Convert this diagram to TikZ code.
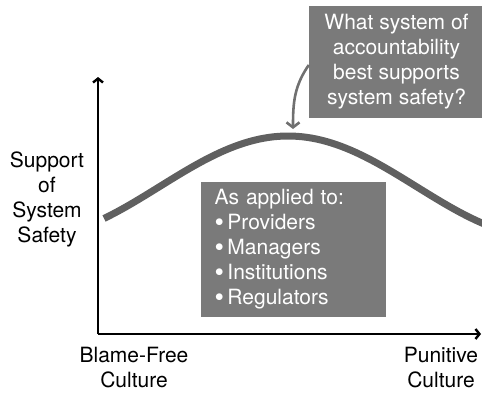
\documentclass[tikz,border=0pt]{standalone}
\usepackage{fontspec}
\setmainfont{TeX Gyre Heros}
\usepackage{tikz}
\usetikzlibrary{arrows.meta}

\definecolor{boxgray}{RGB}{122,122,122}
\definecolor{curvegray}{RGB}{96,96,96}
\definecolor{arrowgray}{RGB}{112,112,112}

\newcommand{\bul}{\raisebox{-2pt}{\fontsize{27}{25}\selectfont\textbullet}\,}

\begin{document}
\begin{tikzpicture}[x=1pt,y=1pt,
  every node/.style={font=\fontsize{21}{25}\selectfont},
  axis/.style={line width=2.4pt,-{Straight Barb[length=4pt,width=10pt]}},
  graybox/.style={rectangle,fill=boxgray,text=white,inner sep=0pt}]
\useasboundingbox (0,0) rectangle (482,392);

% axes
\coordinate (o) at (98,58);
\coordinate (ytop) at (98,315);
\coordinate (xend) at (481,58);
\draw[axis] (o) -- (ytop);
\draw[axis] (o) -- (xend);

% the curve
\draw[curvegray,line width=7pt] plot[domain=104:486,samples=80]
  (\x,{205.3+50.7*cos(0.7*(\x-288))});

% question box and its arrow
\node[graybox,minimum width=175pt,minimum height=112pt,align=center] (question) at (396.5,330)
  {What system of\\accountability\\best supports\\system safety?};
\coordinate (peak) at (293,263);
\draw[arrowgray,line width=2.6pt,-{Straight Barb[length=5pt,width=13pt]}]
  ([yshift=-3pt]question.west) to[out=235,in=90] (peak);

% box with the groups
\node[graybox,minimum width=185pt,minimum height=135pt,text width=158pt,align=left] (groups) at (293.5,142.5)
  {As applied to:\\\bul Providers\\\bul Managers\\\bul Institutions\\\bul Regulators};

% axis labels
\node[align=center] (ylabel) at (47,193) {Support\\of\\System\\Safety};
\node[align=center] (left) at (134,24.5) {Blame-Free\\Culture};
\node[align=center] (right) at (441,24.5) {Punitive\\Culture};
\end{tikzpicture}
\end{document}
